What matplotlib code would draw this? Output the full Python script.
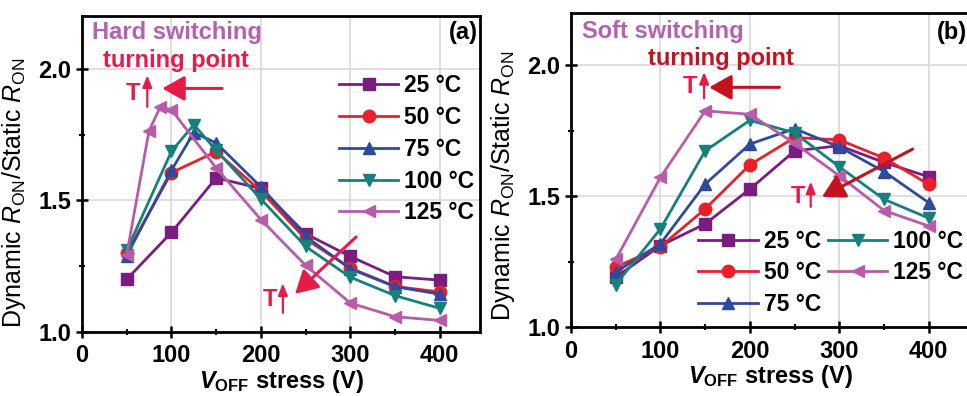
import matplotlib
matplotlib.use("Agg")
import matplotlib.pyplot as plt
from matplotlib.ticker import MultipleLocator

plt.rcParams['font.family'] = ['Liberation Sans', 'DejaVu Sans']
plt.rcParams['mathtext.fontset'] = 'custom'
plt.rcParams['mathtext.rm'] = 'Liberation Sans'
plt.rcParams['mathtext.it'] = 'Liberation Sans:italic'
plt.rcParams['mathtext.bf'] = 'Liberation Sans:bold'
plt.rcParams['mathtext.bfit'] = 'Liberation Sans:italic:bold'

# ---------------- data ----------------
temps = ["25 °C", "50 °C", "75 °C", "100 °C", "125 °C"]
colors = ["#7a1c80", "#e8202a", "#2e4a9e", "#16807a", "#b85ca8"]
markers = ["s", "o", "^", "v", "<"]

# (a) hard switching
xa_25 = [50, 100, 150, 200, 250, 300, 350, 400]
ya_25 = [1.20, 1.378, 1.585, 1.545, 1.373, 1.287, 1.21, 1.197]
xa_50 = [50, 100, 150, 200, 250, 300, 350, 400]
ya_50 = [1.30, 1.605, 1.685, 1.535, 1.353, 1.243, 1.173, 1.152]
xa_75 = [50, 100, 125, 150, 200, 250, 300, 350, 400]
ya_75 = [1.29, 1.614, 1.757, 1.718, 1.551, 1.363, 1.24, 1.172, 1.144]
xa_100 = [50, 100, 125, 150, 200, 250, 300, 350, 400]
ya_100 = [1.31, 1.686, 1.787, 1.69, 1.505, 1.325, 1.208, 1.138, 1.09]
xa_125 = [50, 75, 87.5, 100, 150, 200, 250, 300, 350, 400]
ya_125 = [1.294, 1.765, 1.854, 1.844, 1.623, 1.427, 1.253, 1.11, 1.058, 1.044]

# (b) soft switching
xb = [50, 100, 150, 200, 250, 300, 350, 400]
yb_25 = [1.19, 1.311, 1.394, 1.527, 1.673, 1.693, 1.629, 1.574]
yb_50 = [1.228, 1.307, 1.451, 1.62, 1.724, 1.715, 1.646, 1.545]
yb_75 = [1.21, 1.318, 1.546, 1.699, 1.758, 1.688, 1.594, 1.475]
yb_100 = [1.162, 1.375, 1.673, 1.79, 1.742, 1.612, 1.488, 1.416]
yb_125 = [1.258, 1.572, 1.826, 1.813, 1.702, 1.578, 1.445, 1.386]

xticks = [0, 100, 200, 300, 400]
yticks = [1.0, 1.5, 2.0]

W, H = 967, 396
fig = plt.figure(figsize=(W / 100, H / 100), dpi=100)
axa = fig.add_axes([82 / W, (H - 332) / H, 398 / W, 316 / H])
axb = fig.add_axes([571 / W, (H - 327) / H, 398 / W, 314 / H])

series_a = [(xa_25, ya_25), (xa_50, ya_50), (xa_75, ya_75), (xa_100, ya_100), (xa_125, ya_125)]
series_b = [(xb, yb_25), (xb, yb_50), (xb, yb_75), (xb, yb_100), (xb, yb_125)]

red_a = "#e51c4a"
red_b = "#c4121e"
pink = "#b561b0"

for ax, series in ((axa, series_a), (axb, series_b)):
    for (x, y), lab, c, m in zip(series, temps, colors, markers):
        ax.plot(x, y, color=c, marker=m, markersize=9, lw=2.0, label=lab, zorder=3)
    ax.set_xlim(0, 445)
    ax.set_ylim(1.0, 2.2)
    ax.set_xticks(xticks)
    ax.set_yticks(yticks)
    ax.xaxis.set_minor_locator(MultipleLocator(50))
    ax.yaxis.set_minor_locator(MultipleLocator(0.25))
    ax.grid(True, which='major', color='#d9d9d9', lw=1.2, zorder=0)
    for s in ax.spines.values():
        s.set_linewidth(2.0)
    ax.tick_params(which='major', direction='inout', length=8, width=1.8, labelsize=17, pad=4)
    ax.tick_params(which='minor', direction='inout', length=5, width=1.5)
    ax.tick_params(axis='x', which='major', pad=5)
    for lbl in ax.get_xticklabels() + ax.get_yticklabels():
        lbl.set_fontweight('bold')
    ax.set_xlabel(r"$\mathbfit{V}_{\mathbf{OFF}}$ stress (V)", fontsize=17, fontweight='bold', labelpad=0)
    ax.set_ylabel(r"Dynamic $R_{\mathrm{ON}}$/Static $R_{\mathrm{ON}}$", fontsize=18)

axa.yaxis.set_label_coords(-0.135, 0.44)
axb.yaxis.set_label_coords(-0.135, 0.45)
axa.xaxis.set_label_coords(0.5, -0.115)
axb.xaxis.set_label_coords(0.5, -0.115)

# legends
axa.legend(loc='upper left', bbox_to_anchor=(0.645, 0.815), frameon=False,
           prop={'size': 16.5, 'weight': 'bold'}, handlelength=2.6, handletextpad=0.25,
           labelspacing=0.38, borderpad=0, borderaxespad=0, markerscale=1.0)
axb.legend(loc='upper left', bbox_to_anchor=(0.32, 0.31), frameon=False, ncol=2,
           prop={'size': 16.5, 'weight': 'bold'}, handlelength=2.6, handletextpad=0.25,
           labelspacing=0.38, columnspacing=0.3, borderpad=0, borderaxespad=0)

# texts panel (a)
axa.text(0.024, 0.927, "Hard switching", transform=axa.transAxes, color=pink,
         fontsize=17, fontweight='bold', va='baseline', ha='left')
axa.text(0.053, 0.839, "turning point", transform=axa.transAxes, color=red_a,
         fontsize=17, fontweight='bold', va='baseline', ha='left')
axa.text(0.995, 0.927, "(a)", transform=axa.transAxes, color='black',
         fontsize=17, fontweight='bold', va='baseline', ha='right')

arrow_big_a = dict(arrowstyle='-|>,head_length=0.8,head_width=0.45', lw=2.2, color=red_a,
                   shrinkA=0, shrinkB=0, mutation_scale=17)
arrow_small_a = dict(arrowstyle='-|>,head_length=0.5,head_width=0.2', lw=1.6, color=red_a,
                     shrinkA=0, shrinkB=0, mutation_scale=14)
axa.annotate("", xy=(89.7, 1.925), xytext=(156.7, 1.925), arrowprops=arrow_big_a)
axa.text(56.5, 1.907, "T", color=red_a, fontsize=17, fontweight='bold', ha='center', va='center')
axa.annotate("", xy=(73, 1.975), xytext=(73, 1.855), arrowprops=arrow_small_a)
axa.annotate("", xy=(238.3, 1.145), xytext=(306.5, 1.361), arrowprops=arrow_big_a)
axa.text(210, 1.122, "T", color=red_a, fontsize=17, fontweight='bold', ha='center', va='center')
axa.annotate("", xy=(224.6, 1.185), xytext=(224.6, 1.073), arrowprops=arrow_small_a)

# texts panel (b)
axb.text(0.028, 0.92, "Soft switching", transform=axb.transAxes, color=pink,
         fontsize=17, fontweight='bold', va='baseline', ha='left')
axb.text(0.193, 0.834, "turning point", transform=axb.transAxes, color=red_b,
         fontsize=17, fontweight='bold', va='baseline', ha='left')
axb.text(0.995, 0.917, "(b)", transform=axb.transAxes, color='black',
         fontsize=17, fontweight='bold', va='baseline', ha='right')

arrow_big_b = dict(arrowstyle='-|>,head_length=0.8,head_width=0.45', lw=2.2, color=red_b,
                   shrinkA=0, shrinkB=0, mutation_scale=17)
arrow_small_b = dict(arrowstyle='-|>,head_length=0.5,head_width=0.2', lw=1.6, color=red_a,
                     shrinkA=0, shrinkB=0, mutation_scale=14)
axb.annotate("", xy=(154.5, 1.916), xytext=(233, 1.916), arrowprops=arrow_big_b)
axb.text(133.2, 1.92, "T", color=red_a, fontsize=17, fontweight='bold', ha='center', va='center')
axb.annotate("", xy=(148.8, 1.975), xytext=(148.8, 1.874), arrowprops=arrow_small_b)
axb.annotate("", xy=(280.6, 1.497), xytext=(382, 1.68), arrowprops=arrow_big_b)
axb.text(253.7, 1.497, "T", color=red_a, fontsize=17, fontweight='bold', ha='center', va='center')
axb.annotate("", xy=(268, 1.556), xytext=(268, 1.459), arrowprops=arrow_small_b)

fig.savefig("out.png", dpi=100)
